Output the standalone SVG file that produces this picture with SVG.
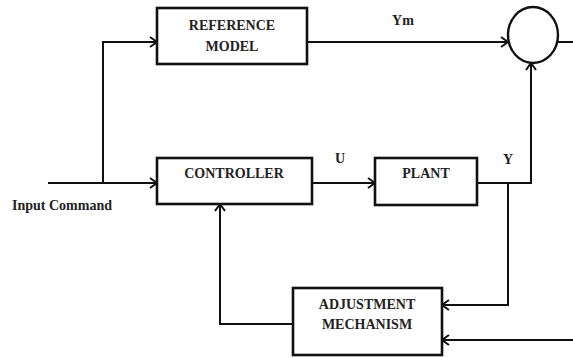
<svg xmlns="http://www.w3.org/2000/svg" width="573" height="358" viewBox="0 0 573 358">
<defs>
<style>
.box{fill:#fff;stroke:#111;stroke-width:2.6}
.ln{fill:none;stroke:#111;stroke-width:2}
.t{font-family:"Liberation Serif","Times New Roman",serif;font-weight:bold;font-size:14px;fill:#222;text-anchor:middle}
</style>
<marker id="ar" viewBox="0 0 10 12" refX="9" refY="6" markerWidth="10" markerHeight="12" markerUnits="userSpaceOnUse" orient="auto">
<polyline points="2,1 9,6 2,11" fill="none" stroke="#111" stroke-width="2"/>
</marker>
</defs>
<rect width="573" height="358" fill="#fff"/>
<g id="connectors">
<polyline class="ln" points="48,183 157,183" marker-end="url(#ar)"/>
<polyline class="ln" points="103,183 103,42 157,42" marker-end="url(#ar)"/>
<polyline class="ln" points="307,42 508,42" marker-end="url(#ar)"/>
<polyline class="ln" points="558,42 573,42"/>
<polyline class="ln" points="312,183 375,183" marker-end="url(#ar)"/>
<polyline class="ln" points="477,183 531,183 531,63" marker-end="url(#ar)"/>
<polyline class="ln" points="508,183 508,305 442,305" marker-end="url(#ar)"/>
<polyline class="ln" points="573,340 442,340" marker-end="url(#ar)"/>
<polyline class="ln" points="293,324 220,324 220,204" marker-end="url(#ar)"/>
</g>
<g id="ref-model">
<rect class="box" x="157" y="8" width="150" height="56"/>
<text class="t" x="232" y="30">REFERENCE</text>
<text class="t" x="232" y="51">MODEL</text>
</g>
<g id="sum">
<ellipse cx="533" cy="35" rx="25" ry="28" fill="#fff" stroke="#111" stroke-width="2.4"/>
</g>
<g id="controller">
<rect class="box" x="157" y="158" width="155" height="46"/>
<text class="t" x="234" y="178">CONTROLLER</text>
</g>
<g id="plant">
<rect class="box" x="375" y="158" width="102" height="47"/>
<text class="t" x="426" y="178">PLANT</text>
</g>
<g id="adjustment">
<rect class="box" x="293" y="288" width="149" height="67"/>
<text class="t" x="367" y="309">ADJUSTMENT</text>
<text class="t" x="367" y="329">MECHANISM</text>
</g>
<g id="labels">
<text class="t" x="403" y="25">Ym</text>
<text class="t" x="340" y="163">U</text>
<text class="t" x="508" y="164">Y</text>
<text class="t" x="62" y="210">Input Command</text>
</g>
</svg>
